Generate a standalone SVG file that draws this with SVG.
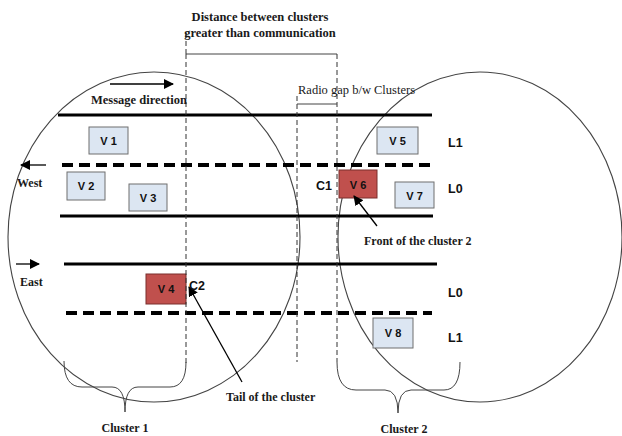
<svg xmlns="http://www.w3.org/2000/svg" width="622" height="436" viewBox="0 0 622 436">
<defs>
<marker id="ah" viewBox="0 0 10 10" refX="9" refY="5" markerWidth="7" markerHeight="7" orient="auto" markerUnits="userSpaceOnUse">
<path d="M0,0 L10,5 L0,10 z" fill="#000"/>
</marker>
<marker id="ah2" viewBox="0 0 10 10" refX="9" refY="5" markerWidth="10" markerHeight="10" orient="auto" markerUnits="userSpaceOnUse">
<path d="M0,0 L10,5 L0,10 z" fill="#000"/>
</marker>
</defs>
<style>
.serif{font-family:"Liberation Serif","Times New Roman",serif;fill:#1a1a1a}
.b{font-weight:bold}
.sans{font-family:"Liberation Sans",Arial,sans-serif;font-weight:bold;fill:#111}
.veh{fill:#dce6f2;stroke:#6f6f6f;stroke-width:1}
.red{fill:#c0504d;stroke:#7a2e2c;stroke-width:1}
.road{stroke:#000;stroke-width:3;fill:none}
.lane{stroke:#000;stroke-width:4;stroke-dasharray:11 6;fill:none}
.vd{stroke:#333;stroke-width:1;stroke-dasharray:5 3;fill:none}
.thin{stroke:#444;stroke-width:1;fill:none}
.ring{stroke:#444;stroke-width:1.1;fill:none}
.arr{stroke:#000;stroke-width:1.3;fill:none}
</style>
<rect width="622" height="436" fill="#fff"/>

<g id="clusters">
<ellipse class="ring" cx="154" cy="237" rx="146" ry="165"/>
<ellipse class="ring" cx="480" cy="237" rx="142" ry="165"/>
</g>

<g id="roads">
<line class="road" x1="58" y1="115" x2="432" y2="115"/>
<line class="lane" x1="62" y1="165" x2="430" y2="165"/>
<line class="road" x1="60" y1="216" x2="433" y2="216"/>
<line class="road" x1="64" y1="264" x2="437" y2="264"/>
<line class="lane" x1="66" y1="313" x2="432" y2="313"/>
</g>

<g id="vehicles">
<g id="v1"><rect class="veh" x="89" y="127" width="39" height="27"/><text class="sans" x="108.5" y="145" font-size="11" text-anchor="middle">V 1</text></g>
<g id="v2"><rect class="veh" x="67" y="172" width="38" height="28"/><text class="sans" x="86" y="190" font-size="11" text-anchor="middle">V 2</text></g>
<g id="v3"><rect class="veh" x="129" y="184" width="38" height="27"/><text class="sans" x="148" y="202" font-size="11" text-anchor="middle">V 3</text></g>
<g id="v4"><rect class="red" x="146" y="274" width="40" height="30"/><text class="sans" x="166" y="293" font-size="11" text-anchor="middle">V 4</text></g>
<g id="v5"><rect class="veh" x="377" y="127" width="41" height="27"/><text class="sans" x="397.5" y="145" font-size="11" text-anchor="middle">V 5</text></g>
<g id="v6"><rect class="red" x="339" y="170" width="38" height="28"/><text class="sans" x="358" y="189" font-size="11" text-anchor="middle">V 6</text></g>
<g id="v7"><rect class="veh" x="395" y="182" width="39" height="26"/><text class="sans" x="414.5" y="200" font-size="11" text-anchor="middle">V 7</text></g>
<g id="v8"><rect class="veh" x="373" y="318" width="40" height="30"/><text class="sans" x="393" y="337" font-size="11" text-anchor="middle">V 8</text></g>
</g>

<g id="connectors">
<polyline class="vd" points="186,33 186,54"/>
<line class="thin" x1="186" y1="54" x2="337" y2="54"/>
<line class="vd" x1="186" y1="54" x2="186" y2="363"/>
<line class="vd" x1="337" y1="54" x2="337" y2="362"/>
<line class="vd" x1="297" y1="96" x2="297" y2="362"/>
<line class="thin" x1="297" y1="104" x2="337" y2="104"/>
<path class="thin" d="M64,361 Q64,387 82,387 L112,387 Q125,387 125,412 Q125,387 138,387 L170,387 Q186,387 186,362"/>
<path class="thin" d="M337,362 Q337,390 356,390 L385,390 Q398,390 398,413 Q398,390 411,390 L444,390 Q460,390 460,362"/>
<line class="arr" x1="110" y1="84" x2="173" y2="84" marker-end="url(#ah2)"/>
<line class="arr" x1="46" y1="165" x2="21" y2="165" marker-end="url(#ah2)"/>
<line class="arr" x1="16" y1="264" x2="39" y2="264" marker-end="url(#ah2)"/>
<line class="arr" x1="377" y1="226" x2="354" y2="196" marker-end="url(#ah2)"/>
<line class="arr" x1="242" y1="382" x2="189" y2="287" marker-end="url(#ah2)"/>
</g>

<g id="labels">
<text class="serif b" x="260" y="21" font-size="12.5" text-anchor="middle">Distance between clusters</text>
<text class="serif b" x="260" y="37" font-size="12.5" text-anchor="middle">greater than communication</text>
<text class="serif b" x="91" y="104" font-size="12.5">Message direction</text>
<text class="serif" x="298" y="94" font-size="12.5">Radio gap b/w Clusters</text>
<text class="serif b" x="17" y="187" font-size="12">West</text>
<text class="serif b" x="20" y="286" font-size="12">East</text>
<text class="sans" x="316" y="190" font-size="12.5">C1</text>
<text class="sans" x="189" y="290" font-size="12.5">C2</text>
<text class="sans" x="448" y="147" font-size="12.5">L1</text>
<text class="sans" x="448" y="193" font-size="12.5">L0</text>
<text class="sans" x="448" y="297" font-size="12.5">L0</text>
<text class="sans" x="448" y="342" font-size="12.5">L1</text>
<text class="serif b" x="364" y="245" font-size="12">Front of the cluster 2</text>
<text class="serif b" x="226" y="401" font-size="12">Tail of the cluster</text>
<text class="serif b" x="125" y="432" font-size="12" text-anchor="middle">Cluster 1</text>
<text class="serif b" x="404" y="433" font-size="12" text-anchor="middle">Cluster 2</text>
</g>
</svg>
